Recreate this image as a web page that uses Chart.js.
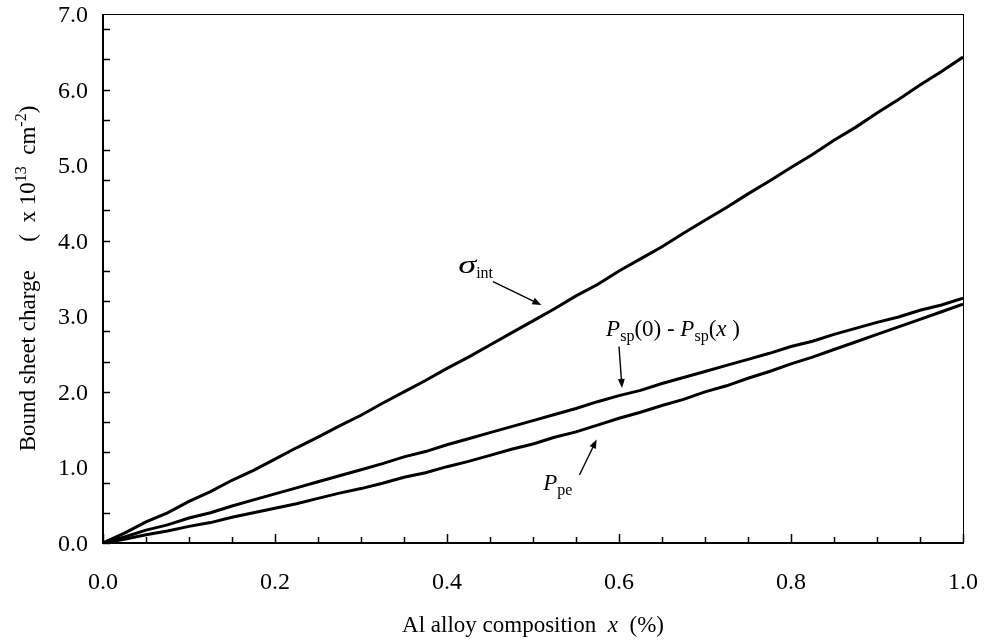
<!DOCTYPE html>
<html>
<head>
<meta charset="utf-8">
<script src="https://cdn.jsdelivr.net/npm/chart.js@4.4.1/dist/chart.umd.min.js"></script>
<style>
  html, body { margin: 0; padding: 0; background: #fff; }
  #wrap { width: 989px; height: 642px; }
</style>
</head>
<body>
<div id="wrap"><canvas id="chargeChart" width="989" height="642"></canvas></div>
<script>
// Al composition x (fraction) and bound sheet charges in units of 1e13 cm^-2
const alloyX = [
  0.000, 0.025, 0.050, 0.075, 0.100, 0.125, 0.150, 0.175, 0.200, 0.225,
  0.250, 0.275, 0.300, 0.325, 0.350, 0.375, 0.400, 0.425, 0.450, 0.475,
  0.500, 0.525, 0.550, 0.575, 0.600, 0.625, 0.650, 0.675, 0.700, 0.725,
  0.750, 0.775, 0.800, 0.825, 0.850, 0.875, 0.900, 0.925, 0.950, 0.975, 1.000
];
const sigmaInt = [
  0.00, 0.13, 0.28, 0.40, 0.55, 0.68, 0.83, 0.96, 1.11, 1.26,
  1.40, 1.55, 1.69, 1.85, 2.00, 2.15, 2.31, 2.46, 2.62, 2.78,
  2.94, 3.10, 3.27, 3.42, 3.60, 3.76, 3.92, 4.10, 4.27, 4.44,
  4.62, 4.79, 4.97, 5.14, 5.33, 5.50, 5.69, 5.87, 6.06, 6.24, 6.43
];
const spontDiff = [
  0.00, 0.08, 0.17, 0.24, 0.33, 0.40, 0.49, 0.57, 0.65, 0.73,
  0.81, 0.89, 0.97, 1.05, 1.14, 1.21, 1.30, 1.38, 1.46, 1.54,
  1.62, 1.70, 1.78, 1.87, 1.95, 2.02, 2.11, 2.19, 2.27, 2.35,
  2.43, 2.51, 2.60, 2.67, 2.76, 2.84, 2.92, 2.99, 3.08, 3.15, 3.24
];
const piezo = [
  0.00, 0.05, 0.11, 0.16, 0.22, 0.27, 0.34, 0.40, 0.46, 0.52,
  0.59, 0.66, 0.72, 0.79, 0.87, 0.93, 1.01, 1.08, 1.16, 1.24,
  1.31, 1.40, 1.47, 1.56, 1.65, 1.73, 1.82, 1.90, 2.00, 2.08,
  2.18, 2.27, 2.37, 2.46, 2.56, 2.66, 2.76, 2.86, 2.96, 3.06, 3.16
];
const xTickLabels = ['0.0', '0.2', '0.4', '0.6', '0.8', '1.0'];
const yTickLabels = ['0.0', '1.0', '2.0', '3.0', '4.0', '5.0', '6.0', '7.0'];

const FONT = '"Liberation Serif", "Times New Roman", serif';
const toPoints = ys => alloyX.map((x, i) => ({ x, y: ys[i] }));

function onStep(v, step) {
  const k = v / step;
  return Math.abs(k - Math.round(k)) < 1e-6;
}

function runFont(r, size) {
  let s = size;
  if (r.sub || r.sup) s = Math.round(size * 0.7);
  if (r.big) s = size + 3;
  return (r.italic ? 'italic ' : '') + s + 'px ' + FONT;
}

// width of one piece, allowing for a horizontal stretch
function runWidth(ctx, r, size) {
  ctx.font = runFont(r, size);
  return ctx.measureText(r.t).width * (r.stretch || 1);
}

// draws text pieces left to right; each piece may be italic, sub, sup or stretched
function drawRuns(ctx, x, y, runs, size) {
  runs.forEach(r => {
    ctx.font = runFont(r, size);
    const dy = r.sub ? 5 : (r.sup ? -9 : 0);
    ctx.save();
    ctx.translate(x, y + dy);
    if (r.stretch) ctx.scale(r.stretch, 1);
    ctx.fillText(r.t, 0, 0);
    ctx.restore();
    x += runWidth(ctx, r, size);
  });
  return x;
}

function runsWidth(ctx, runs, size) {
  return runs.reduce((w, r) => w + runWidth(ctx, r, size), 0);
}

function arrow(ctx, x1, y1, x2, y2) {
  const ang = Math.atan2(y2 - y1, x2 - x1);
  const len = 9, half = 3.5;
  ctx.lineWidth = 1.4;
  ctx.beginPath();
  ctx.moveTo(x1, y1);
  ctx.lineTo(x2 - Math.cos(ang) * len * 0.8, y2 - Math.sin(ang) * len * 0.8);
  ctx.stroke();
  ctx.beginPath();
  ctx.moveTo(x2, y2);
  ctx.lineTo(x2 - Math.cos(ang) * len - Math.sin(ang) * half, y2 - Math.sin(ang) * len + Math.cos(ang) * half);
  ctx.lineTo(x2 - Math.cos(ang) * len + Math.sin(ang) * half, y2 - Math.sin(ang) * len - Math.cos(ang) * half);
  ctx.closePath();
  ctx.fill();
}

const frameAndLabels = {
  id: 'frameAndLabels',
  afterDatasetsDraw(chart) {
    const { ctx, chartArea: a, scales: { x, y } } = chart;
    const size = 23;
    ctx.save();
    ctx.fillStyle = '#000';
    ctx.strokeStyle = '#000';

    // plot frame: heavier axes on left and bottom
    ctx.lineWidth = 1;
    ctx.strokeRect(a.left + 0.5, a.top + 0.5, a.right - a.left, a.bottom - a.top);
    ctx.lineWidth = 2;
    ctx.beginPath();
    ctx.moveTo(a.left, a.top);
    ctx.lineTo(a.left, a.bottom);
    ctx.lineTo(a.right, a.bottom);
    ctx.stroke();

    // inward tick marks
    ctx.lineWidth = 1.5;
    ctx.beginPath();
    x.ticks.forEach(t => {
      const px = Math.round(x.getPixelForValue(t.value)) + 0.5;
      const len = onStep(t.value, 0.2) ? 9 : 6;
      ctx.moveTo(px, a.bottom);
      ctx.lineTo(px, a.bottom - len);
    });
    y.ticks.forEach(t => {
      const py = Math.round(y.getPixelForValue(t.value)) + 0.5;
      ctx.moveTo(a.left, py);
      ctx.lineTo(a.left + 7, py);
    });
    ctx.stroke();

    // tick labels
    ctx.font = '24px ' + FONT;
    ctx.textBaseline = 'alphabetic';
    ctx.textAlign = 'center';
    xTickLabels.forEach(l => {
      ctx.fillText(l, x.getPixelForValue(parseFloat(l)), a.bottom + 46);
    });
    ctx.textAlign = 'right';
    yTickLabels.forEach(l => {
      ctx.fillText(l, a.left - 15, y.getPixelForValue(parseFloat(l)) + 8);
    });

    // x axis title
    ctx.textAlign = 'left';
    const xTitle = [{ t: 'Al alloy composition  ' }, { t: 'x', italic: true }, { t: '  (%)' }];
    const xw = runsWidth(ctx, xTitle, size);
    drawRuns(ctx, (a.left + a.right) / 2 - xw / 2, a.bottom + 89, xTitle, size);

    // y axis title, rotated
    const yTitle = [
      { t: 'Bound sheet charge     (  x 10' }, { t: '13', sup: true },
      { t: '  cm' }, { t: '-2', sup: true }, { t: ')' }
    ];
    const yw = runsWidth(ctx, yTitle, size);
    ctx.save();
    ctx.translate(35, (a.top + a.bottom) / 2 + yw / 2);
    ctx.rotate(-Math.PI / 2);
    drawRuns(ctx, 0, 0, yTitle, size);
    ctx.restore();

    // curve annotations
    const X = v => x.getPixelForValue(v);
    const Y = v => y.getPixelForValue(v);
    drawRuns(ctx, X(0.413), Y(3.57), [
      { t: 'σ', italic: true, big: true, stretch: 1.4 }, { t: 'int', sub: true }
    ], size);
    arrow(ctx, X(0.4535), Y(3.46), X(0.5097), Y(3.15));

    drawRuns(ctx, X(0.585), Y(2.74), [
      { t: 'P', italic: true }, { t: 'sp', sub: true }, { t: '(0) - ' },
      { t: 'P', italic: true }, { t: 'sp', sub: true }, { t: '(' },
      { t: 'x', italic: true }, { t: ' )' }
    ], size);
    arrow(ctx, X(0.600), Y(2.60), X(0.6035), Y(2.05));

    drawRuns(ctx, X(0.512), Y(0.70), [{ t: 'P', italic: true }, { t: 'pe', sub: true }], size);
    arrow(ctx, X(0.554), Y(0.90), X(0.574), Y(1.37));

    ctx.restore();
  }
};

const lineStyle = { borderColor: '#000', borderWidth: 3, pointRadius: 0, tension: 0, fill: false };

new Chart(document.getElementById('chargeChart'), {
  type: 'line',
  data: {
    datasets: [
      { label: 'sigma_int', data: toPoints(sigmaInt), ...lineStyle },
      { label: 'Psp(0) - Psp(x)', data: toPoints(spontDiff), ...lineStyle },
      { label: 'Ppe', data: toPoints(piezo), ...lineStyle }
    ]
  },
  options: {
    responsive: false,
    animation: false,
    devicePixelRatio: 1,
    layout: { padding: { left: 103, right: 26, top: 14, bottom: 99 } },
    plugins: { legend: { display: false }, tooltip: { enabled: false } },
    scales: {
      x: { type: 'linear', min: 0, max: 1, display: false, ticks: { stepSize: 0.05 } },
      y: { type: 'linear', min: 0, max: 7, display: false, ticks: { stepSize: 0.2 } }
    }
  },
  plugins: [frameAndLabels]
});
</script>
</body>
</html>
